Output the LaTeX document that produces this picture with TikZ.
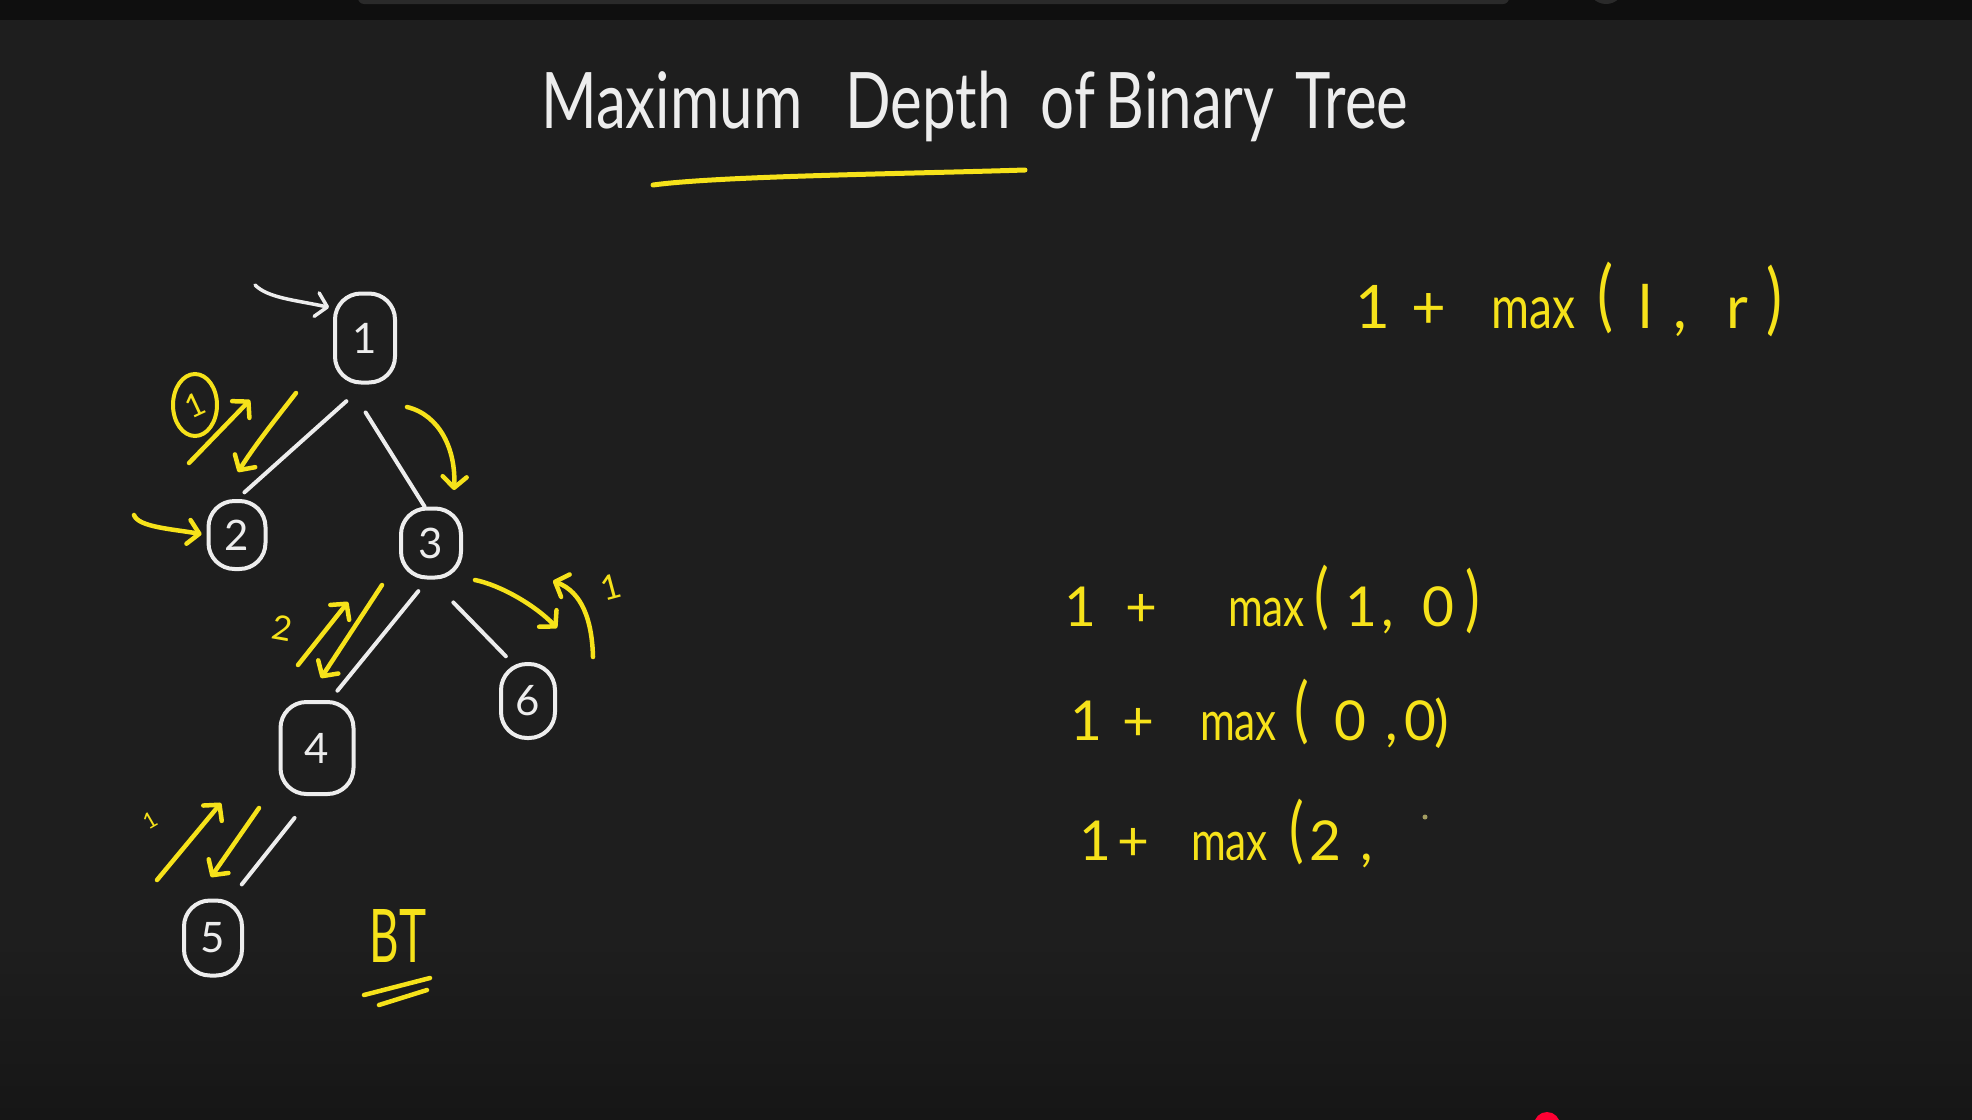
\documentclass[tikz,border=0pt]{standalone}
\usepackage{fontspec}
\setmainfont{Lato}
\usepackage{graphicx}
\usetikzlibrary{arrows.meta,shapes.geometric}
\definecolor{bgc}{HTML}{1E1E1E}
\definecolor{bgbot}{HTML}{161616}
\definecolor{topc}{HTML}{0F0F0F}
\definecolor{topbar}{HTML}{2A2A2A}
\definecolor{chalk}{HTML}{EDEDED}
\definecolor{hl}{HTML}{F6E21A}
\definecolor{ytred}{HTML}{FF0033}
\newcommand{\mx}{\scalebox{0.77}[1]{max}}
\newcommand{\lp}{\raisebox{6pt}{\scalebox{1}[1.3]{(}}}
\newcommand{\rp}{\raisebox{3pt}{\scalebox{1}[1.3]{)}}}
\begin{document}
\begin{tikzpicture}[x=1pt,y=-1pt,
  tnode/.style={draw=chalk, line width=4pt, rounded corners=26pt, inner sep=0pt,
    text=chalk, font=\fontsize{42}{50}\selectfont},
  edge/.style={draw=chalk, line width=4pt, line cap=round},
  wtip/.style={-{Straight Barb[length=11pt,width=24pt,round]}},
  warrow/.style={draw=chalk, line width=3.5pt, line cap=round, wtip},
  yline/.style={draw=hl, line width=4.5pt, line cap=round},
  yarrow/.style={yline, wtip},
  ylabel/.style={text=hl, inner sep=0pt, font=\fontsize{34}{40}\selectfont},
  formula/.style={text=hl, inner sep=0pt, anchor=base west, font=\fontsize{55}{66}\selectfont},
  titletext/.style={text=chalk, inner sep=0pt, anchor=base west, font=\fontsize{60}{72}\selectfont}]
% background
\useasboundingbox (0,0) rectangle (1972,1119);
\clip (0,0) rectangle (1972,1119);
\fill[bgc] (0,0) rectangle (1972,1119);
\shade[top color=bgc, bottom color=bgbot] (0,940) rectangle (1972,1119);
\fill[topc] (0,0) rectangle (1972,20);
\fill[topbar, rounded corners=6pt] (358,-12) rectangle (1509,4);
\fill[topbar] (1606,-14) circle (18);
\fill[ytred] (1547,1125) circle (13);

% title
\node[titletext] (title) at (541,128) {\scalebox{1}[1.3]{Maximum\hspace{43pt}Depth\hspace{30pt}of\hspace{11pt}Binary\hspace{21pt}Tree}};
\coordinate (ul1) at (653,185);
\coordinate (ul2) at (1025,170);
\draw[yline, line width=5pt] (ul1) .. controls (720,176) and (900,174) .. (ul2);

% tree nodes
\node[tnode, minimum width=60pt, minimum height=89pt] (n1) at (365,338) {1};
\node[tnode, minimum width=57pt, minimum height=68pt] (n2) at (237,535) {2};
\node[tnode, minimum width=60pt, minimum height=69pt] (n3) at (431,543) {3};
\node[tnode, minimum width=54pt, minimum height=74pt] (n6) at (528,701) {6};
\node[tnode, minimum width=73pt, minimum height=92pt] (n4) at (317,748) {4};
\node[tnode, minimum width=58pt, minimum height=75pt] (n5) at (213,938) {5};

% tree edges
\draw[edge, shorten <=25pt, shorten >=10pt] (n1.south) -- (n2.north);
\draw[edge, shorten <=33pt] (n1.250) -- (n3.100);
\draw[edge, shorten <=15pt, shorten >=12pt] (n3.265) -- (n4.75);
\draw[edge, shorten <=32pt, shorten >=8pt] (n3.south) -- (n6.113);
\draw[edge, shorten <=28pt, shorten >=18pt] (n4.264) -- (n5.66);

% white arrow to the root
\coordinate (a0) at (255,285);
\draw[warrow, shorten >=4pt] (a0) .. controls (268,298) and (295,300) .. (n1.137);

% yellow arrows
\coordinate (a1) at (134,515);
\draw[yarrow, shorten >=5pt] (a1) .. controls (138,527) and (172,529) .. (n2.west);

\coordinate (a2s) at (296,393);
\coordinate (a2e) at (238,472);
\draw[yarrow] (a2s) .. controls (275,420) and (255,445) .. (a2e);

\coordinate (a3s) at (189,463);
\coordinate (a3e) at (250,400);
\draw[yarrow] (a3s) -- (a3e);
\node[draw=hl, line width=4pt, ellipse, minimum width=44pt, minimum height=62pt, inner sep=0pt,
  text=hl, font=\fontsize{32}{38}\selectfont] (c1) at (195,405) {\rotatebox{25}{1}};

\coordinate (a4s) at (407,407);
\coordinate (a4e) at (454,490);
\draw[yarrow] (a4s) .. controls (440,415) and (456,450) .. (a4e);

\coordinate (a5s) at (382,585);
\coordinate (a5e) at (321,678);
\draw[yarrow] (a5s) -- (a5e);
\coordinate (a6s) at (298,665);
\coordinate (a6e) at (348,602);
\draw[yarrow] (a6s) -- (a6e);
\node[ylabel, rotate=-10] (l2) at (282,628) {2};

\coordinate (a7s) at (475,580);
\coordinate (a7e) at (557,628);
\draw[yarrow] (a7s) .. controls (500,585) and (535,605) .. (a7e);
\coordinate (a8s) at (593,657);
\coordinate (a8e) at (553,581);
\draw[yarrow] (a8s) .. controls (592,620) and (582,592) .. (a8e);
\node[ylabel, rotate=15] (l6) at (611,587) {1};

\coordinate (a9s) at (157,880);
\coordinate (a9e) at (221,803);
\draw[yarrow] (a9s) -- (a9e);
\coordinate (a10s) at (259,808);
\coordinate (a10e) at (211,877);
\draw[yarrow] (a10s) -- (a10e);
\node[ylabel, font=\fontsize{22}{26}\selectfont, rotate=30] (l5) at (150,820) {1};

% BT
\node[text=hl, inner sep=0pt, font=\fontsize{74}{80}\selectfont] (bt) at (398,936) {\scalebox{0.62}[1]{BT}};
\coordinate (bt1s) at (364,995);
\coordinate (bt1e) at (430,978);
\coordinate (bt2s) at (379,1005);
\coordinate (bt2e) at (427,990);
\draw[yline] (bt1s) -- (bt1e);
\draw[yline] (bt2s) -- (bt2e);

% formulas
\node[formula, font=\fontsize{60}{72}\selectfont] (f1) at (1355,328)
  {1\hspace{22pt}+\hspace{45pt}\mx\hspace{22pt}\lp\hspace{25pt}l\hspace{21pt},\hspace{39pt}r\hspace{18pt}\rp};
\node[formula] (f2) at (1064,626)
  {1\hspace{29pt}+\hspace{71pt}\mx\hspace{10pt}\lp\hspace{16pt}1\hspace{4pt},\hspace{28pt}0\hspace{12pt}\rp};
\node[formula] (f3) at (1070,740)
  {1\hspace{20pt}+\hspace{46pt}\mx\hspace{18pt}\lp\hspace{25pt}0\hspace{19pt},\hspace{6pt}0\hspace{-2pt})};
\node[formula] (f4) at (1079,860)
  {1\hspace{6pt}+\hspace{42pt}\mx\hspace{22pt}\lp\hspace{5pt}2\hspace{19pt},};
\fill[gray!70!hl] (1425,817) circle (2.5);
\end{tikzpicture}
\end{document}
